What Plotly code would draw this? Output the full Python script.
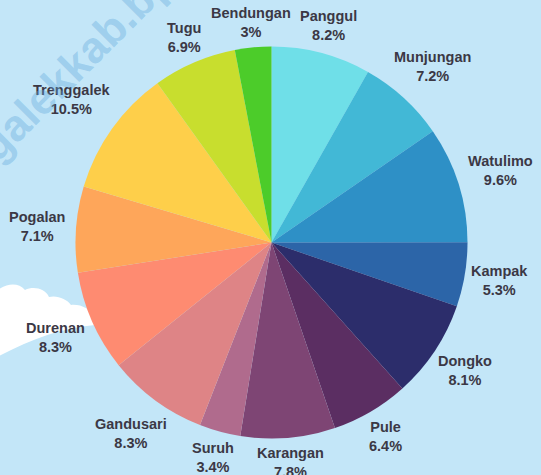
import math
import plotly.graph_objects as go

labels = ["Panggul", "Munjungan", "Watulimo", "Kampak", "Dongko", "Pule", "Karangan",
          "Suruh", "Gandusari", "Durenan", "Pogalan", "Trenggalek", "Tugu", "Bendungan"]
values = [8.2, 7.2, 9.6, 5.3, 8.1, 6.4, 7.8, 3.4, 8.3, 8.3, 7.1, 10.5, 6.9, 3.0]
value_text = ["8.2%", "7.2%", "9.6%", "5.3%", "8.1%", "6.4%", "7.8%",
              "3.4%", "8.3%", "8.3%", "7.1%", "10.5%", "6.9%", "3%"]
colors = ["#6fdfe8", "#42b8d6", "#2e90c6", "#2c65a8", "#2c2d6b", "#5b2e62", "#7e4574",
          "#b06b8d", "#de8486", "#fe8b71", "#fea65a", "#fecf4a", "#c8de2e", "#4ccc2a"]

W, H = 541, 475
cx, cy, r = 271.5, 242.5, 196
FS = 14.5
TXT = "#3b3845"
BG = "#c3e6f8"

fig = go.Figure()
fig.add_trace(go.Pie(
    labels=labels, values=values, text=value_text,
    sort=False, direction="clockwise", rotation=0,
    marker=dict(colors=colors, line=dict(width=0)),
    textinfo="none",
    showlegend=False,
    hoverinfo="label+text",
    domain=dict(x=[(cx - r) / W, (cx + r) / W], y=[(H - cy - r) / H, (H - cy + r) / H]),
))

# outside labels, placed from the slice mid-angles
total = sum(values)
cum = 0.0
gap = 10
for lab, v, t in zip(labels, values, value_text):
    mid = (cum + v / 2) / total * 2 * math.pi
    cum += v
    s, c = math.sin(mid), math.cos(mid)
    w = max(len(lab), len(t)) * 0.55 * FS
    h = 24
    R = r + gap + (w / 2) * abs(s) + (h / 2) * abs(c)
    px, py = cx + R * s, cy - R * c
    fig.add_annotation(text=f"<b>{lab}</b><br><b>{t}</b>", xref="paper", yref="paper",
                       x=px / W, y=1 - py / H, xanchor="center", yanchor="middle",
                       showarrow=False, align="center",
                       font=dict(family="Liberation Sans", size=FS, color=TXT))

# cloud on the left
def P(x, y):
    return f"{x / W:.5f},{1 - y / H:.5f}"

cloud_path = ("M " + P(-5, 358) + " L " + P(-5, 292) +
              " C " + P(6, 283) + " " + P(18, 282) + " " + P(25, 290) +
              " C " + P(33, 286) + " " + P(45, 288) + " " + P(49, 297) +
              " C " + P(57, 295) + " " + P(67, 299) + " " + P(71, 305) +
              " C " + P(81, 304) + " " + P(90, 309) + " " + P(95, 317) +
              " L " + P(95, 325) +
              " C " + P(60, 328) + " " + P(30, 340) + " " + P(-5, 358) + " Z")
fig.add_shape(type="path", xref="paper", yref="paper", path=cloud_path,
              fillcolor="white", line=dict(width=0), layer="below")

# watermark
fig.add_annotation(text="<b>trenggalekkab.bps.go.id</b>", xref="paper", yref="paper",
                   x=88 / W, y=1 - 52 / H, showarrow=False, textangle=-45,
                   xanchor="center", yanchor="middle",
                   font=dict(family="Liberation Sans", size=44, color="rgba(100,170,220,0.4)"))

fig.update_layout(
    width=W, height=H,
    margin=dict(l=0, r=0, t=0, b=0),
    paper_bgcolor=BG, plot_bgcolor=BG,
)
fig.write_html("out.html", config={"displayModeBar": False},
               post_script="document.body.style.margin='0';")
